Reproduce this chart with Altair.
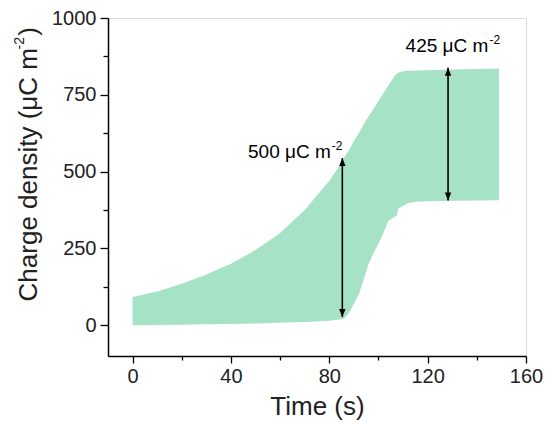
import altair as alt
import pandas as pd

time = [0, 10, 20, 30, 40, 50, 60, 70, 80, 85, 86, 88, 90, 92, 94, 96, 98, 100,
        102, 104, 106, 107, 107.6, 108, 110, 112, 115, 120, 130, 140, 149]
upper = [92, 110, 135, 165, 200, 245, 300, 375, 470, 530, 545, 570, 600, 625, 655, 680, 705, 730,
         755, 780, 805, 815, 819, 822, 827, 828, 829, 830, 832, 834, 836]
lower = [0, 1, 2, 3, 4, 6, 8, 11, 15, 20, 22, 40, 70, 100, 150, 200, 235, 265,
         300, 340, 350, 355, 358, 380, 388, 398, 402, 404, 405, 406, 407]

arrow_t = [85.3, 128.3]
arrow_top = [544, 838]
arrow_bot = [27, 406]

label_t = [80.6, 144.7]
label_y = [544, 888]
label_main = ["500 \u03bcC m", "425 \u03bcC m"]
label_sup = ["-2", "-2"]

x_ticks = [0, 20, 40, 60, 80, 100, 120, 140, 160]
y_ticks = [0, 125, 250, 375, 500, 625, 750, 875, 1000]

FONT = "Liberation Sans"
W, H = 418, 338

band = pd.DataFrame({"t": time, "hi": upper, "lo": lower})
arrows = pd.DataFrame({"t": arrow_t, "top": arrow_top, "bot": arrow_bot})
labels = pd.DataFrame({"t": label_t, "y": label_y, "main": label_main, "sup": label_sup})

xscale = alt.Scale(domain=[-10, 160], nice=False, zero=False)
yscale = alt.Scale(domain=[-100, 1000], nice=False, zero=False)

xaxis = alt.Axis(values=x_ticks, title="Time (s)", format="d", labelFlush=False, labelOverlap=False,
                 labelExpr="datum.value % 40 === 0 ? datum.label : ''",
                 tickSize={"condition": {"test": "datum.value % 40 === 0", "value": 7}, "value": 4},
                 labelFontSize=20, titleFontSize=26, labelFont=FONT, titleFont=FONT,
                 titleFontWeight="normal", labelColor="#222", titleColor="#222",
                 domainColor="black", tickColor="black", domainWidth=1.5, tickWidth=1.3,
                 labelPadding=3, titlePadding=7, grid=False)
yaxis = alt.Axis(values=y_ticks, title=None, format="d", labelFlush=False, labelOverlap=False,
                 labelExpr="datum.value % 250 === 0 ? datum.label : ''",
                 tickSize={"condition": {"test": "datum.value % 250 === 0", "value": 8}, "value": 5},
                 labelFontSize=20, labelFont=FONT, labelColor="#222",
                 domainColor="black", tickColor="black", domainWidth=1.5, tickWidth=1.3,
                 labelPadding=4, grid=False)

area = alt.Chart(band).mark_area(color="#a6e3c6", opacity=1, interpolate="linear").encode(
    x=alt.X("t:Q", scale=xscale, axis=xaxis),
    y=alt.Y("hi:Q", scale=yscale, axis=yaxis),
    y2="lo:Q",
)

rules = alt.Chart(arrows).mark_rule(color="black", strokeWidth=1.6).encode(
    x="t:Q", y=alt.Y("top:Q"), y2="bot:Q"
)
head_up = alt.Chart(arrows).mark_point(
    shape="M 0 0 L 0.4 1 L -0.4 1 Z", filled=True, color="black", opacity=1, size=256, strokeWidth=0
).encode(x="t:Q", y="top:Q")
head_dn = alt.Chart(arrows).mark_point(
    shape="M 0 0 L 0.4 -1 L -0.4 -1 Z", filled=True, color="black", opacity=1, size=256, strokeWidth=0
).encode(x="t:Q", y="bot:Q")

main_txt = alt.Chart(labels).mark_text(
    align="right", baseline="alphabetic", font=FONT, fontSize=19, color="black"
).encode(x="t:Q", y="y:Q", text="main:N")
sup_txt = alt.Chart(labels).mark_text(
    align="left", baseline="alphabetic", font=FONT, fontSize=12, color="black", dx=1, dy=-8
).encode(x="t:Q", y="y:Q", text="sup:N")

title_df = pd.DataFrame({"a": ["Charge density (\u03bcC m"], "b": ["-2"], "c": [")"]})
t_main = alt.Chart(title_df).mark_text(
    align="right", baseline="alphabetic", angle=270, font=FONT, fontSize=26, color="#222"
).encode(x=alt.value(-71), y=alt.value(30), text="a:N")
t_sup = alt.Chart(title_df).mark_text(
    align="right", baseline="alphabetic", angle=270, font=FONT, fontSize=14, color="#222"
).encode(x=alt.value(-84), y=alt.value(19), text="b:N")
t_par = alt.Chart(title_df).mark_text(
    align="right", baseline="alphabetic", angle=270, font=FONT, fontSize=26, color="#222"
).encode(x=alt.value(-71), y=alt.value(9), text="c:N")

chart = alt.layer(area, rules, head_up, head_dn, main_txt, sup_txt, t_main, t_sup, t_par).properties(
    width=W, height=H,
    autosize=alt.AutoSizeParams(type="none"),
    padding={"left": 100, "top": 10, "right": 17, "bottom": 66},
).configure_view(stroke="black", strokeWidth=1.5).configure(background="white")

chart.save("out.html", embed_options={"renderer": "svg", "actions": False})
